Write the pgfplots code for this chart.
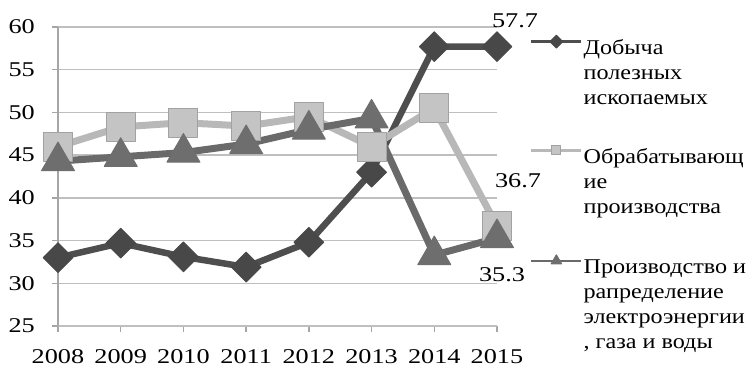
\documentclass[border=0pt]{standalone}
\usepackage{fontspec}
\setmainfont[FakeStretch=1.25]{Liberation Serif}
\newfontfamily\legfont[FakeStretch=1.15]{Liberation Serif}
\usepackage{pgfplots}
\pgfplotsset{compat=1.18}
\definecolor{cA}{HTML}{4E4E4E}
\definecolor{cAm}{HTML}{484848}
\definecolor{cB}{HTML}{B8B8B8}
\definecolor{cBm}{HTML}{C4C4C4}
\definecolor{cBd}{HTML}{A2A2A2}
\definecolor{cC}{HTML}{6A6A6A}
\definecolor{cCm}{HTML}{6E6E6E}
\definecolor{gridc}{HTML}{BFBFBF}
\definecolor{axisc}{HTML}{A6A6A6}
\pgfplotsset{myleg/.style={legend image code/.code={\draw[mark repeat=2,mark phase=2,##1,line width=2.5pt,mark size=#1] plot coordinates {(0pt,6pt)(25pt,6pt)(50pt,6pt)};}}}
\begin{document}
\fontsize{21}{25}\selectfont
\begin{tikzpicture}
\path[use as bounding box] (-58pt,-46pt) rectangle (695pt,326pt);
\begin{axis}[
  at={(0pt,0pt)}, anchor=south west,
  scale only axis, width=439pt, height=299pt,
  xmin=2008, xmax=2015, ymin=25, ymax=60,
  xtick={2008,2009,2010,2011,2012,2013,2014,2015},
  xticklabels={2008,2009,2010,2011,2012,2013,2014,2015},
  ytick={25,30,35,40,45,50,55,60},
  /pgf/number format/assume math mode=true,
  axis x line*=bottom, axis y line*=left,
  ymajorgrids, grid style={color=gridc, line width=1.5pt},
  tick align=outside, major tick length=6pt,
  tick style={color=axisc, line width=1.5pt},
  axis line style={color=axisc, line width=1.5pt},
  x axis line style={color=gridc},
  ticklabel style={font=\fontsize{21}{25}\selectfont},
  yticklabel style={inner xsep=0pt, xshift=-17pt},
  xticklabel style={inner ysep=0pt, yshift=-17pt},
  clip=false,
  legend cell align=left,
  legend style={at={(1.075,0.973)}, anchor=north west, draw=none, fill=none,
    inner sep=0pt, row sep=88pt, column sep=0pt,
    font=\legfont\fontsize{21}{25}\selectfont,
    nodes={inner xsep=1pt, inner ysep=0pt}},
  line join=round,
]
\addplot[color=cA, line width=6.5pt, mark=square*, mark size=10.5pt,
  mark options={rotate=45, fill=cAm, draw=cAm, line width=1pt}, myleg=4.5pt]
  coordinates {(2008,33.0)(2009,34.7)(2010,33.1)(2011,31.9)(2012,34.8)(2013,43.0)(2014,57.7)(2015,57.7)};
\addlegendentry{\begin{tabular}[t]{@{}l@{}}Добыча\\полезных\\ископаемых\end{tabular}}
\addplot[color=cB, line width=7pt, mark=square*, mark size=14.5pt,
  mark options={fill=cBm, draw=cBd, line width=1pt}, myleg=4.5pt]
  coordinates {(2008,46.0)(2009,48.3)(2010,48.8)(2011,48.4)(2012,49.5)(2013,46.0)(2014,50.5)(2015,36.7)};
\addlegendentry{\begin{tabular}[t]{@{}l@{}}Обрабатывающ\\ие\\производства\end{tabular}}
\addplot[color=cC, line width=7pt, mark=triangle*, mark size=19pt,
  mark options={fill=cCm, draw=cCm, line width=1pt}, myleg=6pt]
  coordinates {(2008,44.3)(2009,44.8)(2010,45.3)(2011,46.3)(2012,48.0)(2013,49.3)(2014,33.3)(2015,35.3)};
\addlegendentry{\begin{tabular}[t]{@{}l@{}}Производство и\\рапределение\\электроэнергии\\, газа и воды\end{tabular}}
\node at (axis cs:2015,57.7) [xshift=18pt, yshift=26pt] {57.7};
\node at (axis cs:2015,36.7) [xshift=21pt, yshift=45pt] {36.7};
\node at (axis cs:2015,35.3) [xshift=5pt, yshift=-37pt] {35.3};
\end{axis}
\end{tikzpicture}
\end{document}
